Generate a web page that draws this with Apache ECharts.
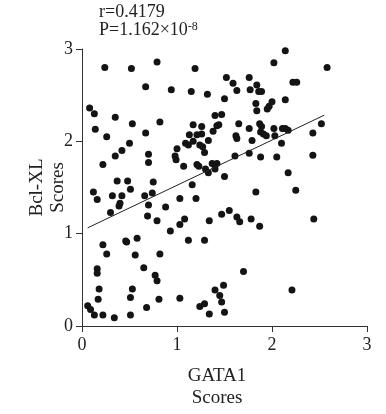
<!DOCTYPE html>
<html>
<head>
<meta charset="utf-8">
<script src="https://cdn.jsdelivr.net/npm/echarts@6/dist/echarts.min.js"></script>
<style>
html,body{margin:0;padding:0;background:#fff;}
#chart{width:386px;height:414px;}
</style>
</head>
<body>
<div id="chart"></div>
<script>
// GATA1 scores (x) and Bcl-XL scores (y)
const gata1 = [
0.24,0.52,0.79,1.19,2.14,2.02,2.58,0.67,0.94,1.15,1.32,1.52,1.59,1.63,1.76,1.84,1.77,1.86,1.89,2.22,
2.26,1.50,1.83,1.84,2.00,1.97,1.95,2.14,0.08,0.13,0.35,1.40,1.47,0.14,0.26,0.53,0.82,0.67,0.50,0.42,
0.35,0.22,0.70,0.70,0.98,0.99,1.00,1.07,1.17,1.26,1.42,1.44,1.38,1.13,1.21,1.26,1.33,1.09,1.12,1.17,
1.24,1.27,1.29,1.21,1.23,1.30,1.33,1.37,1.42,1.40,1.50,1.16,1.65,1.62,1.63,1.76,1.79,1.87,1.89,1.88,
1.91,1.94,2.02,2.03,2.11,2.14,2.17,2.10,1.61,1.76,1.88,2.05,2.17,2.25,1.83,2.43,2.52,2.43,0.12,0.16,
0.32,0.37,0.48,0.51,0.42,0.40,0.39,0.30,0.66,0.75,0.74,0.70,0.88,1.03,1.20,0.69,1.47,1.55,0.79,1.08,
1.03,0.93,1.12,1.34,1.63,1.66,1.78,1.87,1.29,2.44,1.70,2.21,0.22,0.26,0.46,0.47,0.58,0.56,0.65,0.82,
0.16,0.16,0.18,0.17,0.06,0.09,0.13,0.22,0.34,0.51,0.51,0.53,0.68,0.77,0.79,0.81,1.03,1.24,1.29,1.34,
1.40,1.45,1.47,1.49,1.50
];
const bclxl = [
2.80,2.79,2.86,2.79,2.98,2.85,2.80,2.59,2.56,2.54,2.51,2.69,2.63,2.55,2.69,2.61,2.56,2.54,2.54,2.64,
2.64,2.46,2.41,2.33,2.43,2.38,2.35,2.45,2.36,2.30,2.26,2.28,2.29,2.13,2.05,2.19,2.21,2.09,1.98,1.90,
1.84,1.75,1.86,1.77,1.84,1.80,1.92,1.73,2.18,2.16,2.17,2.18,2.11,2.07,2.07,2.08,2.01,1.98,1.96,2.00,
1.96,1.94,1.88,1.75,1.73,1.70,1.66,1.76,1.76,1.70,1.62,1.53,2.19,2.06,2.03,2.14,2.01,2.19,2.16,2.10,
2.08,2.06,2.14,2.06,2.14,2.14,2.12,1.98,1.84,1.87,1.83,1.83,1.66,1.47,1.45,2.09,2.19,1.85,1.45,1.37,
1.41,1.57,1.57,1.48,1.41,1.33,1.30,1.23,1.41,1.56,1.44,1.31,1.29,1.38,1.38,1.19,1.21,1.25,1.14,1.16,
1.10,1.03,0.93,1.14,1.18,1.13,1.16,1.08,0.93,1.16,0.59,0.39,0.88,0.78,0.92,0.91,0.95,0.77,0.63,0.78,
0.62,0.57,0.40,0.29,0.22,0.18,0.12,0.12,0.09,0.12,0.31,0.40,0.20,0.55,0.49,0.29,0.30,0.21,0.24,0.13,
0.39,0.33,0.26,0.44,0.15
];
// Fitted regression line
const fitSlope = 0.49;
const fitIntercept = 1.034;
const fitRange = [0.06, 2.55];
// Axis ticks
const xTicks = [0, 1, 2, 3];
const yTicks = [0, 1, 2, 3];
const rText = 'r=0.4179';
const pText = 'P=1.162×10';
const pExp = '-8';

const points = gata1.map((x, i) => [x, bclxl[i]]);
const fitLine = fitRange.map(x => [x, fitIntercept + fitSlope * x]);

const serif = '"Liberation Serif","DejaVu Serif",serif';
const axisCol = '#333';
const chart = echarts.init(document.getElementById('chart'), null, {renderer: 'canvas'});
chart.setOption({
  animation: false,
  backgroundColor: '#fff',
  grid: {left: 82, right: 19, top: 49, bottom: 86, containLabel: false},
  xAxis: {
    type: 'value', min: xTicks[0], max: xTicks[xTicks.length - 1], interval: 1,
    name: 'GATA1\nScores', nameLocation: 'middle', nameGap: 39, nameMoveOverlap: false,
    nameTextStyle: {fontFamily: serif, fontSize: 19, color: '#222', lineHeight: 22, padding: [0, 15, 0, 0]},
    axisLine: {lineStyle: {color: axisCol, width: 1}},
    axisTick: {show: true, length: 6, lineStyle: {color: axisCol}},
    axisLabel: {fontFamily: serif, fontSize: 18, color: '#222', margin: 10},
    splitLine: {show: false}
  },
  yAxis: {
    type: 'value', min: yTicks[0], max: yTicks[yTicks.length - 1], interval: 1,
    name: 'Bcl-XL\nScores', nameLocation: 'middle', nameGap: 13, nameRotate: 90, nameMoveOverlap: false,
    nameTextStyle: {fontFamily: serif, fontSize: 19, color: '#222', lineHeight: 21},
    axisLine: {show: true, lineStyle: {color: axisCol, width: 1}},
    axisTick: {show: true, length: 6, lineStyle: {color: axisCol}},
    axisLabel: {fontFamily: serif, fontSize: 18, color: '#222', margin: 9},
    splitLine: {show: false}
  },
  graphic: [{
    type: 'text', left: 99, top: 3,
    style: {
      text: '{a|' + rText + '}\n{a|' + pText + '}{s|' + pExp + '}',
      rich: {
        a: {fontFamily: serif, fontSize: 18, fill: '#222', lineHeight: 18},
        s: {fontFamily: serif, fontSize: 12, fill: '#222', verticalAlign: 'top', lineHeight: 18, padding: [0, 0, 10, 0]}
      }
    }
  }],
  series: [
    {
      type: 'scatter', data: points, symbolSize: 7,
      itemStyle: {color: '#141414', opacity: 1}
    },
    {
      type: 'line', data: fitLine, symbol: 'none', silent: true,
      lineStyle: {color: '#222', width: 1}
    }
  ]
});
</script>
</body>
</html>
